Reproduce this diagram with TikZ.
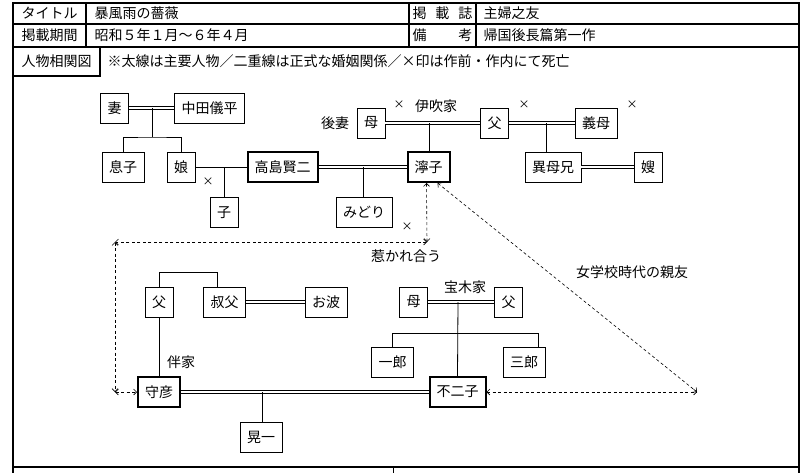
\documentclass[tikz,border=0pt]{standalone}
\usepackage{fontspec}
\setmainfont{Noto Sans CJK JP}
\usetikzlibrary{arrows.meta}

\begin{document}
\begin{tikzpicture}[x=1pt, y=-1pt,
        every node/.style={font=\fontsize{14}{16}\selectfont},
        person/.style={draw, line width=0.8pt, inner xsep=7pt, inner ysep=0pt, minimum height=30pt},
        lead/.style={person, line width=2pt},
        wed/.style={double, line width=0.7pt, double distance=2pt},
        tie/.style={line width=0.8pt},
        rule/.style={line width=2.2pt},
        cross/.style={font=\fontsize{11}{12}\selectfont, inner sep=0pt},
        friend/.style={line width=0.6pt, dash pattern=on 3pt off 2.5pt, >={Straight Barb[length=3pt,width=6pt]}, <->}]
    \useasboundingbox (0,0) rectangle (809,472);

    % frame of the sheet
    \draw[rule] (13,480) -- (13,3) -- (799,3) -- (799,480);
    \foreach \y in {24,47,467} {
        \draw[rule] (13,\y) -- (799,\y);
    }
    \foreach \x in {86,409,476} {
        \draw[rule] (\x,3) -- (\x,47);
    }
    \draw[rule] (100,47) -- (100,76) -- (13,76);
    \draw[tie] (393,467) -- (393,480);

    % header texts
    \node (ttl) at (49.5,13.5) {タイトル};
    \node[anchor=west] (ttlv) at (91,13.5) {暴風雨の薔薇};
    \node (mag) at (442.5,13.5) {\makebox[60pt][s]{掲\hfill 載\hfill 誌}};
    \node[anchor=west] (magv) at (480,13.5) {主婦之友};
    \node (per) at (49.5,35.5) {掲載期間};
    \node[anchor=west] (perv) at (91,35.5) {昭和５年１月～６年４月};
    \node (note) at (442.5,35.5) {\makebox[60pt][s]{備\hfill 考}};
    \node[anchor=west] (notev) at (480,35.5) {帰国後長篇第一作};
    \node (chart) at (56.5,61.5) {人物相関図};
    \node[anchor=west] (legend) at (104,61.5) {※太線は主要人物／二重線は正式な婚姻関係／×印は作前・作内にて死亡};

    % upper families
    \node[person] (tsuma) at (114.5,108) {妻};
    \node[person] (nakata) at (209.5,108) {中田儀平};
    \node[person] (musuko) at (123,167) {息子};
    \node[person] (musume) at (181,167) {娘};
    \node[person] (ko) at (224,212.5) {子};
    \node[lead] (takashima) at (282.5,167) {高島賢二};
    \node[person] (midori) at (364,212) {みどり};
    \node[person] (haha) at (371,123) {母};
    \node[person] (chichi) at (494.5,123) {父};
    \node[person] (gibo) at (596,123) {義母};
    \node[lead] (neiko) at (428.5,167) {濘子};
    \node[person] (ibokei) at (553,167) {異母兄};
    \node[person] (aniyome) at (648,167) {嫂};

    \node (gosai) at (335,123) {後妻};
    \node (ibuki) at (436,106) {伊吹家};
    \node[cross] (x1) at (208,182) {×};
    \node[cross] (x2) at (399,105) {×};
    \node[cross] (x3) at (524,105) {×};
    \node[cross] (x4) at (632,105) {×};
    \node[cross] (x5) at (407,227) {×};

    \coordinate (m1) at (152,108);
    \coordinate (m2) at (224,167);
    \coordinate (m3) at (363,167);
    \coordinate (m4) at (429,123);
    \coordinate (m5) at (546,123);

    \draw[wed] (tsuma) -- (nakata);
    \draw[tie] (m1) -- (152,137);
    \draw[tie] (musuko.north) |- (152,137) -| (musume.north);
    \draw[tie] (musume) -- (takashima);
    \draw[tie] (m2) -- (ko.north);
    \draw[wed] (takashima) -- (neiko);
    \draw[tie] (m3) -- (m3 |- midori.north);
    \draw[wed] (haha) -- (chichi);
    \draw[tie] (m4) -- (m4 |- neiko.north);
    \draw[wed] (chichi) -- (gibo);
    \draw[tie] (m5) -- (m5 |- ibokei.north);
    \draw[wed] (ibokei) -- (aniyome);

    % lower families
    \node[person] (fuchi) at (159,302) {父};
    \node[person] (oji) at (224.5,302) {叔父};
    \node[person] (onami) at (326,302) {お波};
    \node[lead] (morihiko) at (159,392) {守彦};
    \node[person] (koichi) at (261,437) {晃一};
    \node[person] (haha2) at (413.5,302) {母};
    \node[person] (chichi2) at (508.5,302) {父};
    \node[person] (ichiro) at (392.5,362) {一郎};
    \node[person] (saburo) at (524,362) {三郎};
    \node[lead] (fujiko) at (457.5,392) {不二子};

    \node (banke) at (181,362) {伴家};
    \node (takaragi) at (465,287) {宝木家};

    \coordinate (b1) at (217,272);
    \coordinate (m6) at (262,392);
    \coordinate (m7) at (458,302);
    \coordinate (b2) at (392,333);
    \coordinate (b3) at (538,333);

    \draw[tie] (fuchi.north) |- (b1) -- (b1 |- oji.north);
    \draw[wed] (oji) -- (onami);
    \draw[tie] (fuchi) -- (morihiko);
    \draw[wed] (morihiko) -- (fujiko);
    \draw[tie] (m6) -- (m6 |- koichi.north);
    \draw[wed] (haha2) -- (chichi2);
    \draw[tie] (m7) -- (fujiko.north);
    \draw[tie] (b2 |- ichiro.north) -- (b2) -- (b3) -- (b3 |- saburo.north);

    % dashed ties between the heroines
    \node (hikare) at (406,256) {惹かれ合う};
    \node (shinyu) at (632,272) {女学校時代の親友};

    \coordinate (c1) at (427,242);
    \coordinate (c2) at (115,242);
    \coordinate (c3) at (115,392);
    \coordinate (c4) at (697,392);

    \draw[friend] ([xshift=-2pt]neiko.south) -- (c1);
    \draw[friend] (c1) -- (c2);
    \draw[friend] (c2) -- (c3);
    \draw[friend] (c3) -- (morihiko.west);
    \draw[friend] ([xshift=9pt]neiko.south) -- (c4);
    \draw[friend] (fujiko.east) -- (c4);
\end{tikzpicture}
\end{document}
